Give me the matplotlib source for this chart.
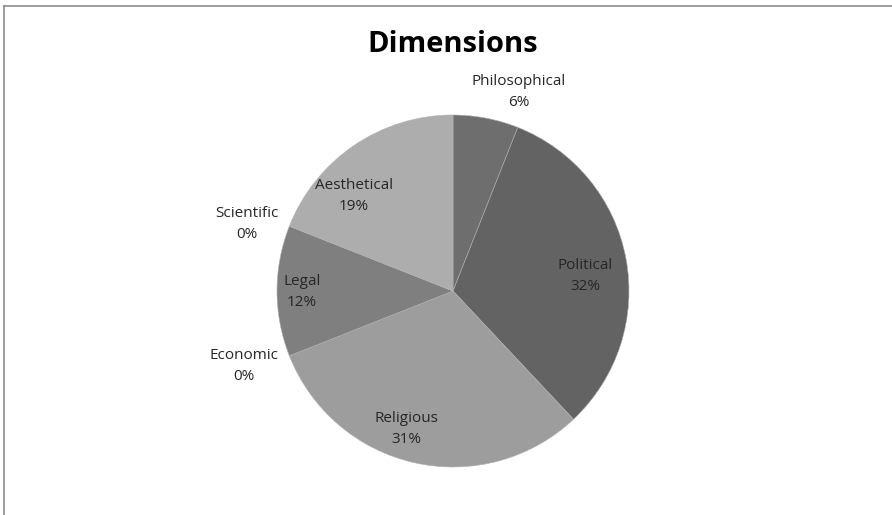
import matplotlib
matplotlib.use("Agg")
import matplotlib.pyplot as plt
from matplotlib.lines import Line2D

categories = ["Philosophical", "Political", "Religious", "Economic", "Legal", "Scientific", "Aesthetical"]
values = [6, 32, 31, 0, 12, 0, 19]
pct_labels = ["6%", "32%", "31%", "0%", "12%", "0%", "19%"]
colors = ["#6e6e6e", "#636363", "#9d9d9d", "#909090", "#7f7f7f", "#a5a5a5", "#adadad"]
# label positions in units of pie radius (relative to centre)
label_pos = [(0.375, 1.131), (0.75, 0.085), (-0.267, -0.784), (-1.188, -0.426),
             (-0.858, -0.006), (-1.170, 0.381), (-0.5625, 0.540)]

W, H = 892, 515
cx, cy, r = 453, 291, 176

fig = plt.figure(figsize=(W / 100, H / 100), dpi=100)
ax = fig.add_axes([0, 0, 1, 1])
ax.pie(values, colors=colors, startangle=90, counterclock=False, radius=1,
       wedgeprops=dict(edgecolor="#b0b0b0", linewidth=0.4))
ax.set_xlim(-cx / r, (W - cx) / r)
ax.set_ylim(-(H - cy) / r, cy / r)
ax.set_aspect("equal")
ax.axis("off")

for cat, pct, (x, y) in zip(categories, pct_labels, label_pos):
    ax.text(x, y, f"{cat}\n{pct}", ha="center", va="center", fontsize=11,
            family="Open Sans", color="#262626", linespacing=1.5)

fig.text(cx / W, 1 - 45 / H, "Dimensions", ha="center", va="center",
         fontsize=21, fontweight="bold", family="Open Sans", color="black")

# outer frame (top and left visible)
fig.add_artist(Line2D([4 / W, 1], [1 - 6 / H, 1 - 6 / H], transform=fig.transFigure,
                      color="#8c8c8c", linewidth=1.2))
fig.add_artist(Line2D([4 / W, 4 / W], [0, 1 - 6 / H], transform=fig.transFigure,
                      color="#8c8c8c", linewidth=1.2))

fig.savefig("out.png", dpi=100)
